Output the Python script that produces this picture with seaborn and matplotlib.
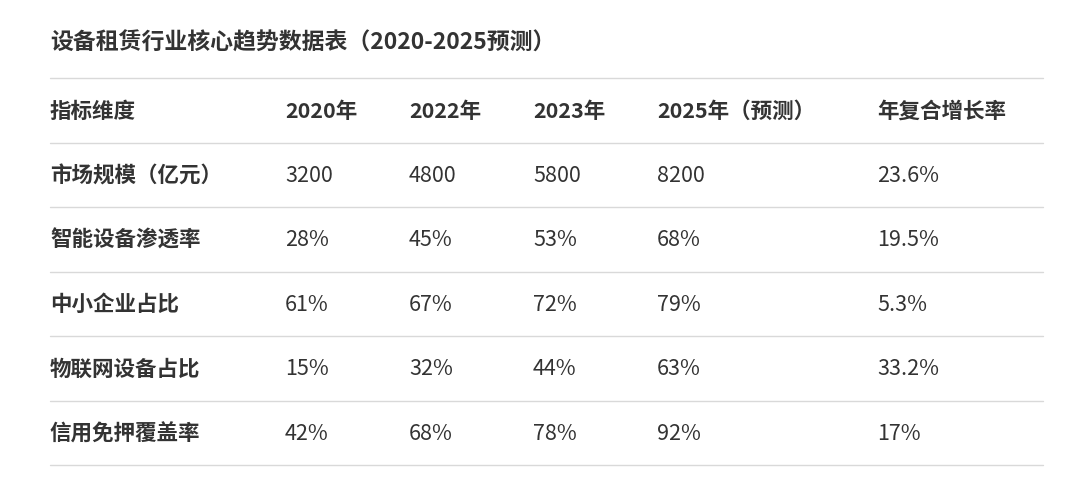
import matplotlib
matplotlib.use("Agg")
import matplotlib.pyplot as plt
import seaborn as sns

title = "设备租赁行业核心趋势数据表（2020-2025预测）"
headers = ["指标维度", "2020年", "2022年", "2023年", "2025年（预测）", "年复合增长率"]
indicators = ["市场规模（亿元）", "智能设备渗透率", "中小企业占比", "物联网设备占比", "信用免押覆盖率"]
v2020 = ["3200", "28%", "61%", "15%", "42%"]
v2022 = ["4800", "45%", "67%", "32%", "68%"]
v2023 = ["5800", "53%", "72%", "44%", "78%"]
v2025 = ["8200", "68%", "79%", "63%", "92%"]
cagr = ["23.6%", "19.5%", "5.3%", "33.2%", "17%"]

sns.set_theme(style="white", rc={"font.family": "Noto Sans CJK SC"})
fig = plt.figure(figsize=(10.66, 4.81), dpi=100)
ax = fig.add_axes([0, 0, 1, 1])
ax.set_xlim(0, 1066)
ax.set_ylim(481, 0)
ax.axis("off")

col_x = [50, 285, 409, 533, 657, 877]
row_h = 64.5
top = 79
x0, x1 = 50, 1043
color = "#333333"
fs = 15.5

ax.text(x0, 43, title, fontsize=16.5, fontweight="bold", color=color, va="center", ha="left")

rows = [headers] + [list(r) for r in zip(indicators, v2020, v2022, v2023, v2025, cagr)]
for i in range(len(rows) + 1):
    y = top + i * row_h
    ax.plot([x0, x1], [y, y], color="#d9d9d9", lw=1)
for i, row in enumerate(rows):
    yc = top + (i + 0.5) * row_h
    for j, txt in enumerate(row):
        bold = i == 0 or j == 0
        ax.text(col_x[j], yc, txt, fontsize=fs, fontweight="bold" if bold else "normal",
                color=color, va="center", ha="left")

fig.savefig("out.png", dpi=100, facecolor="white")
